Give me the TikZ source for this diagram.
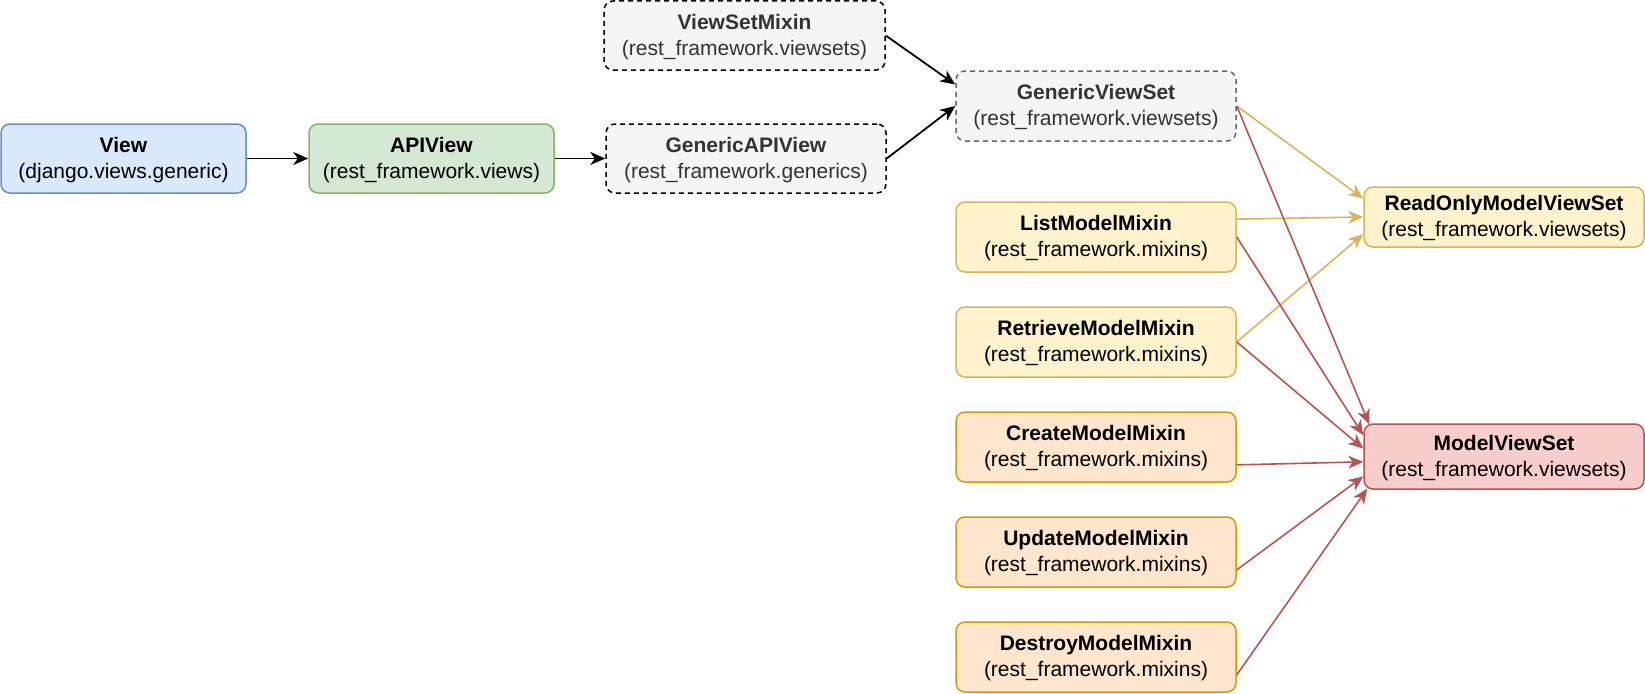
\documentclass[tikz,border=0pt]{standalone}
\usepackage{fontspec}
\setmainfont{Liberation Sans}
\usetikzlibrary{arrows.meta,calc}
\definecolor{blueF}{HTML}{DAE8FC}\definecolor{blueS}{HTML}{6C8EBF}
\definecolor{greenF}{HTML}{D5E8D4}\definecolor{greenS}{HTML}{82B366}
\definecolor{grayF}{HTML}{F5F5F5}\definecolor{grayS}{HTML}{666666}\definecolor{grayT}{HTML}{333333}
\definecolor{yelF}{HTML}{FFF2CC}\definecolor{yelS}{HTML}{D6B656}
\definecolor{oraF}{HTML}{FFE6CC}\definecolor{oraS}{HTML}{D79B00}
\definecolor{redF}{HTML}{F8CECC}\definecolor{redS}{HTML}{B85450}
\tikzset{
  box/.style={rectangle, rounded corners=9pt, line width=1.5pt, inner sep=0pt,
    align=center, font=\fontsize{21}{26}\selectfont, minimum height=69pt,
    execute at begin node={\vspace*{2pt}}, text depth=2pt},
  bluebox/.style={box, fill=blueF, draw=blueS},
  greenbox/.style={box, fill=greenF, draw=greenS},
  graybox/.style={box, fill=grayF, draw=black, dash pattern=on 5pt off 4pt, text=grayT},
  graybox2/.style={box, fill=grayF, draw=grayS, dash pattern=on 5pt off 4pt, text=grayT},
  yelbox/.style={box, fill=yelF, draw=yelS},
  orabox/.style={box, fill=oraF, draw=oraS},
  redbox/.style={box, fill=redF, draw=redS},
  conn/.style={line width=1.8pt, -{Stealth[length=15pt,width=13pt,inset=4.5pt]}},
  blackconn/.style={conn, draw=black},
  yelconn/.style={conn, line width=1.6pt, draw=yelS},
  redconn/.style={conn, line width=1.6pt, draw=redS},
}
\begin{document}
\begin{tikzpicture}[x=1pt,y=-1pt]
\useasboundingbox (0,0) rectangle (1645,693);
\node[bluebox, minimum width=245pt] (view) at (123.5,158.5) {\textbf{View}\\(django.views.generic)};
\node[greenbox, minimum width=245pt] (apiview) at (431.5,158.5) {\textbf{APIView}\\(rest\_framework.views)};
\node[graybox, minimum width=280pt] (gapiview) at (746,158.5) {\textbf{GenericAPIView}\\(rest\_framework.generics)};
\node[graybox, minimum width=281pt] (vsmixin) at (744.5,35.5) {\textbf{ViewSetMixin}\\(rest\_framework.viewsets)};
\node[graybox2, minimum width=280pt, minimum height=70pt] (gvs) at (1096,106) {\textbf{GenericViewSet}\\(rest\_framework.viewsets)};
\node[yelbox, minimum width=280pt, minimum height=70pt] (list) at (1096,237) {\textbf{ListModelMixin}\\(rest\_framework.mixins)};
\node[yelbox, minimum width=280pt, minimum height=70pt] (retrieve) at (1096,342) {\textbf{RetrieveModelMixin}\\(rest\_framework.mixins)};
\node[orabox, minimum width=280pt, minimum height=70pt] (create) at (1096,447) {\textbf{CreateModelMixin}\\(rest\_framework.mixins)};
\node[orabox, minimum width=280pt, minimum height=70pt] (update) at (1096,552) {\textbf{UpdateModelMixin}\\(rest\_framework.mixins)};
\node[orabox, minimum width=280pt, minimum height=70pt] (destroy) at (1096,657) {\textbf{DestroyModelMixin}\\(rest\_framework.mixins)};
\node[yelbox, minimum width=280pt, minimum height=60pt] (romvs) at (1504,217) {\textbf{ReadOnlyModelViewSet}\\(rest\_framework.viewsets)};
\node[redbox, minimum width=280pt, minimum height=65pt] (mvs) at (1504,456.5) {\textbf{ModelViewSet}\\(rest\_framework.viewsets)};

\draw[blackconn] (view.east) -- (apiview.west);
\draw[blackconn] (apiview.east) -- (gapiview.west);
\draw[blackconn] (vsmixin.east) -- ($(gvs.north west)!0.2!(gvs.south west)$);
\draw[blackconn] (gapiview.east) -- (gvs.west);

\draw[yelconn] (gvs.east) -- ($(romvs.north west)!0.2!(romvs.south west)$);
\draw[yelconn] ($(list.north east)!0.25!(list.south east)$) -- (romvs.west);
\draw[yelconn] (retrieve.east) -- ($(romvs.north west)!0.78!(romvs.south west)$);

\draw[redconn] (gvs.east) -- ($(mvs.north west)+(6,1)$);
\draw[redconn] (list.east) -- ($(mvs.north west)!0.18!(mvs.south west)$);
\draw[redconn] (retrieve.east) -- ($(mvs.north west)!0.38!(mvs.south west)$);
\draw[redconn] ($(create.north east)!0.75!(create.south east)$) -- ($(mvs.north west)!0.58!(mvs.south west)$);
\draw[redconn] ($(update.north east)!0.75!(update.south east)$) -- ($(mvs.north west)!0.8!(mvs.south west)$);
\draw[redconn] ($(destroy.north east)!0.75!(destroy.south east)$) -- ($(mvs.south west)+(4,-1)$);
\end{tikzpicture}
\end{document}
